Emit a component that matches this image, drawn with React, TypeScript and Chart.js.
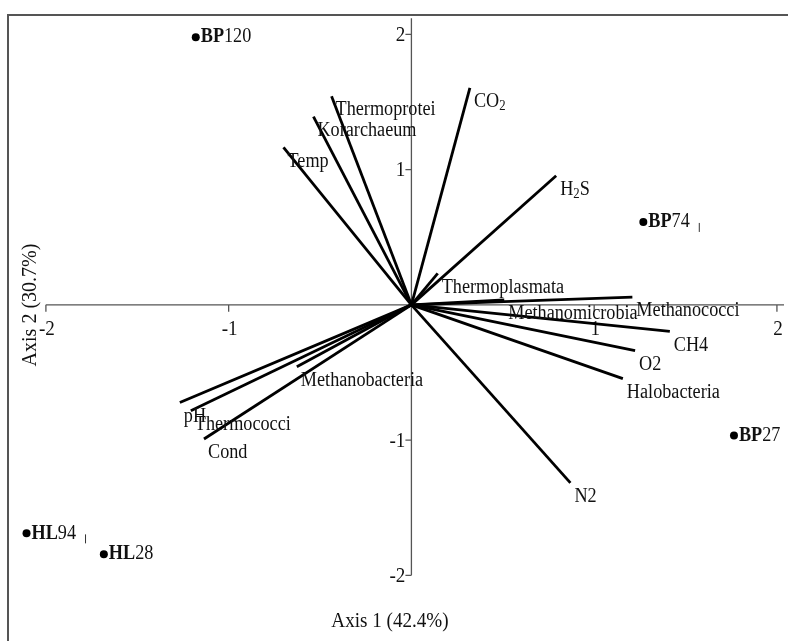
import { useEffect, useRef } from "react";
import { Chart, registerables } from "chart.js";

Chart.register(...registerables);

// Biplot vectors (variables / taxa)
const vectorLabels = [
  "CO_2", "H_2S", "Thermoprotei", "Korarchaeum", "Temp", "Thermoplasmata",
  "Methanomicrobia", "Methanococci", "CH4", "O2", "Halobacteria", "N2",
  "Methanobacteria", "pH", "Thermococci", "Cond",
];
const vectorX = [0.320, 0.792, -0.437, -0.536, -0.700, 0.144, 0.508, 1.209, 1.414, 1.224, 1.157, 0.870, -0.627, -1.267, -1.207, -1.135];
const vectorY = [1.605, 0.955, 1.543, 1.392, 1.164, 0.233, 0.037, 0.057, -0.196, -0.338, -0.546, -1.317, -0.458, -0.722, -0.783, -0.992];

// Sites
const siteCodes = ["BP", "BP", "BP", "HL", "HL"];
const siteNums = ["120", "74", "27", "94", "28"];
const siteX = [-1.180, 1.269, 1.765, -2.106, -1.683];
const siteY = [1.979, 0.613, -0.967, -1.690, -1.844];
const siteMarks = [false, true, false, true, false];

// Axes
const xTickValues = [-2, -1, 1, 2];
const yTickValues = [2, 1, -1, -2];
const xTickLabels = ["-2", "-1", "1", "2"];
const yTickLabels = ["2", "1", "-1", "-2"];
const xAxisTitle = "Axis 1 (42.4%)";
const yAxisTitle = "Axis 2 (30.7%)";

const SERIF = "'Liberation Serif', 'Times New Roman', serif";
const SX = 0.91;

function drawText(ctx: CanvasRenderingContext2D, text: string, x: number, y: number, font: string, align: CanvasTextAlign = "left") {
  ctx.save();
  ctx.font = font;
  ctx.translate(x, y);
  ctx.scale(SX, 1);
  ctx.textAlign = align;
  ctx.textBaseline = "middle";
  ctx.fillText(text, 0, 0);
  ctx.restore();
}

function textWidth(ctx: CanvasRenderingContext2D, text: string, font: string) {
  ctx.save();
  ctx.font = font;
  const w = ctx.measureText(text).width * SX;
  ctx.restore();
  return w;
}

function drawLabel(ctx: CanvasRenderingContext2D, label: string, x: number, y: number) {
  const font = `20px ${SERIF}`;
  const subFont = `14px ${SERIF}`;
  const idx = label.indexOf("_");
  if (idx < 0) {
    drawText(ctx, label, x, y, font);
    return;
  }
  const a = label.slice(0, idx);
  const sub = label.charAt(idx + 1);
  const b = label.slice(idx + 2);
  drawText(ctx, a, x, y, font);
  let cx = x + textWidth(ctx, a, font);
  drawText(ctx, sub, cx, y + 5, subFont);
  cx += textWidth(ctx, sub, subFont);
  if (b) drawText(ctx, b, cx, y, font);
}

const decorPlugin = {
  id: "biplotDecor",
  beforeDatasetsDraw(chart: any) {
    const ctx: CanvasRenderingContext2D = chart.ctx;
    const xs = chart.scales.x;
    const ys = chart.scales.y;
    const area = chart.chartArea;
    const ox = xs.getPixelForValue(0);
    const oy = ys.getPixelForValue(0);
    ctx.save();
    // frame
    ctx.strokeStyle = "#555";
    ctx.lineWidth = 2;
    ctx.strokeRect(area.left, area.top, 1000, 1000);
    // axes
    ctx.strokeStyle = "#555";
    ctx.lineWidth = 1.3;
    ctx.beginPath();
    ctx.moveTo(xs.getPixelForValue(-2), oy);
    ctx.lineTo(area.right, oy);
    ctx.moveTo(ox, ys.getPixelForValue(2.12));
    ctx.lineTo(ox, ys.getPixelForValue(-2));
    // ticks
    xTickValues.forEach((v) => {
      const px = xs.getPixelForValue(v);
      ctx.moveTo(px, oy);
      ctx.lineTo(px, oy + 7);
    });
    yTickValues.forEach((v) => {
      const py = ys.getPixelForValue(v);
      ctx.moveTo(ox, py);
      ctx.lineTo(ox - 6, py);
    });
    ctx.stroke();
    ctx.fillStyle = "#111";
    const tickFont = `21px ${SERIF}`;
    xTickValues.forEach((v, i) => {
      drawText(ctx, xTickLabels[i], xs.getPixelForValue(v) + 1, oy + 25, tickFont, "center");
    });
    yTickValues.forEach((v, i) => {
      drawText(ctx, yTickLabels[i], ox - 6, ys.getPixelForValue(v) + 1, tickFont, "right");
    });
    // axis titles
    const titleFont = `21px ${SERIF}`;
    drawText(ctx, xAxisTitle, (area.left + area.right) / 2 - 6, area.bottom - 16, titleFont, "center");
    ctx.save();
    ctx.translate(area.left + 22, 305);
    ctx.rotate(-Math.PI / 2);
    drawText(ctx, yAxisTitle, 0, 0, `22px ${SERIF}`, "center");
    ctx.restore();
    ctx.restore();
  },
  afterDatasetsDraw(chart: any) {
    const ctx: CanvasRenderingContext2D = chart.ctx;
    const xs = chart.scales.x;
    const ys = chart.scales.y;
    ctx.save();
    ctx.fillStyle = "#111";
    vectorLabels.forEach((lab, i) => {
      const px = xs.getPixelForValue(vectorX[i]);
      const py = ys.getPixelForValue(vectorY[i]);
      drawLabel(ctx, lab, px + 4, py + 14);
    });
    const bold = `bold 20px ${SERIF}`;
    const reg = `20px ${SERIF}`;
    siteCodes.forEach((code, i) => {
      const px = xs.getPixelForValue(siteX[i]);
      const py = ys.getPixelForValue(siteY[i]);
      const x0 = px + 5;
      drawText(ctx, code, x0, py, bold);
      const w1 = textWidth(ctx, code, bold);
      drawText(ctx, siteNums[i], x0 + w1, py, reg);
      if (siteMarks[i]) {
        const end = x0 + w1 + textWidth(ctx, siteNums[i], reg);
        ctx.strokeStyle = "#333";
        ctx.lineWidth = 1;
        ctx.beginPath();
        ctx.moveTo(end + 9.5, py + 1);
        ctx.lineTo(end + 9.5, py + 10);
        ctx.stroke();
      }
    });
    ctx.restore();
  },
};

export default function App() {
  const ref = useRef<HTMLCanvasElement | null>(null);
  useEffect(() => {
    if (!ref.current) return;
    const vectorSets = vectorLabels.map((lab, i) => ({
      label: lab,
      data: [{ x: 0, y: 0 }, { x: vectorX[i], y: vectorY[i] }],
      showLine: true,
      borderColor: "#000",
      borderWidth: 2.8,
      pointRadius: 0,
      fill: false,
    }));
    const siteSet = {
      label: "Sites",
      data: siteX.map((x, i) => ({ x, y: siteY[i] })),
      showLine: false,
      pointRadius: 4,
      pointBackgroundColor: "#000",
      pointBorderWidth: 0,
      backgroundColor: "#000",
      borderColor: "#000",
    };
    const chart = new Chart(ref.current, {
      type: "scatter",
      data: { datasets: [...vectorSets, siteSet] as any },
      options: {
        animation: false,
        responsive: false,
        maintainAspectRatio: false,
        layout: { padding: { left: 8, top: 15, right: 0, bottom: 0 } },
        plugins: { legend: { display: false }, tooltip: { enabled: false } },
        events: [],
        scales: {
          x: { type: "linear", display: false, min: -2.2074, max: 2.0387 },
          y: { type: "linear", display: false, min: -2.4563, max: 2.1433 },
        },
      },
      plugins: [decorPlugin],
    });
    return () => chart.destroy();
  }, []);
  return (
    <div style={{ position: "absolute", left: 0, top: 0, width: 788, height: 641, background: "#fff" }}>
      <canvas ref={ref} width={788} height={641} style={{ display: "block" }} />
    </div>
  );
}
